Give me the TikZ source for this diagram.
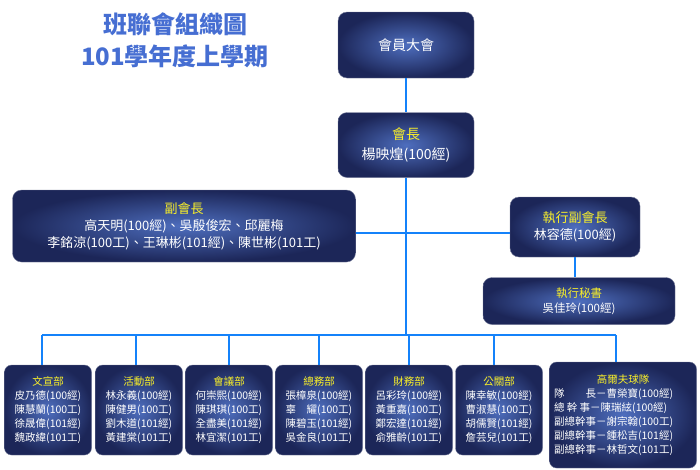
\documentclass[tikz,border=0pt]{standalone}
\usepackage{fontspec}
\setmainfont{Noto Sans CJK TC}
\usetikzlibrary{positioning}
\definecolor{navyout}{RGB}{28,38,88}
\definecolor{navyin}{RGB}{78,110,190}
\definecolor{linkblue}{RGB}{20,130,250}
\definecolor{titleblue}{RGB}{70,110,210}
\definecolor{headyellow}{RGB}{250,240,40}
\newcommand{\hd}[1]{\textcolor{headyellow}{#1}}
\begin{document}
\begin{tikzpicture}[x=1pt,y=-1pt,
  box/.style={rounded corners=9pt,draw=navyout!60,inner color=navyin,outer color=navyout,
    text=white,align=center,font=\fontsize{13}{17}\selectfont,inner sep=2pt},
  small box/.style={box,font=\fontsize{10.5}{14}\selectfont,rounded corners=7pt,inner sep=1pt},
  link/.style={draw=linkblue,line width=2.2pt}]
\useasboundingbox (0,0) rectangle (700,469);
% title
\node[font=\bfseries\fontsize{24}{32}\selectfont,text=titleblue,align=center] (title) at (175,40) {班聯會組織圖\\101學年度上學期};
% upper boxes
\node[box,minimum width=136pt,minimum height=66pt,font=\fontsize{14}{17}\selectfont] (assembly) at (406,45) {會員大會};
\node[box,minimum width=136pt,minimum height=65pt,font=\fontsize{14}{20}\selectfont] (pres) at (406,145) {\hd{會長}\\楊映煌(100經)};
\node[box,minimum width=343pt,minimum height=72pt] (vice) at (184,226) {\hd{副會長}\\高天明(100經)、吳殷俊宏、邱麗梅\\李銘涼(100工)、王琳彬(101經)、陳世彬(101工)};
\node[box,minimum width=130pt,minimum height=60pt] (exvice) at (575,227) {\hd{執行副會長}\\林容德(100經)};
\node[box,minimum width=192pt,minimum height=47pt,font=\fontsize{11.5}{15}\selectfont] (secr) at (579,301) {\hd{執行秘書}\\吳佳玲(100經)};
% departments
\node[small box,minimum width=87pt,minimum height=90pt] (d1) at (48,410) {\hd{文宣部}\\皮乃德(100經)\\陳慧蘭(100工)\\徐晟偉(101經)\\魏政緯(101工)};
\node[small box,minimum width=87pt,minimum height=90pt] (d2) at (139,410) {\hd{活動部}\\林永義(100經)\\陳健男(100工)\\劉木道(101經)\\黃建棠(101工)};
\node[small box,minimum width=87pt,minimum height=90pt] (d3) at (229,410) {\hd{會議部}\\何崇熙(100經)\\陳琪琪(100工)\\全盡美(101經)\\林宜潔(101工)};
\node[small box,minimum width=87pt,minimum height=90pt] (d4) at (319,410) {\hd{總務部}\\張樟泉(100經)\\辜\quad 耀(100工)\\陳碧玉(101經)\\吳金良(101工)};
\node[small box,minimum width=87pt,minimum height=90pt] (d5) at (409,410) {\hd{財務部}\\呂彩玲(100經)\\黃重嘉(100工)\\鄭宏達(101經)\\俞雅齡(101工)};
\node[small box,minimum width=87pt,minimum height=90pt] (d6) at (499,410) {\hd{公關部}\\陳幸敏(100經)\\曹淑慧(100工)\\胡儒賢(101經)\\詹芸兒(101工)};
\node[small box,minimum width=147pt,minimum height=106pt,align=left] (golf) at (623,415) {\makebox[138pt]{\hd{高爾夫球隊}}\\隊\quad\quad 長－曹榮寶(100經)\\總\ 幹\ 事－陳瑞絃(100經)\\副總幹事－謝宗翰(100工)\\副總幹事－鍾松吉(101經)\\副總幹事－林哲文(101工)};
% connectors
\coordinate (hub) at (406,233);
\coordinate (bus) at (406,335);
\draw[link] (assembly) -- (pres);
\draw[link] (pres) -- (bus);
\draw[link] (vice.east|-hub) -- (exvice.west|-hub);
\draw[link] (exvice.south) -- (exvice.south|-secr.north);
\draw[link] (42,335) -- (616,335);
\foreach \n/\x in {d1/42,d2/136,d3/229,d4/319,d5/409,d6/494,golf/616}{
  \coordinate (top) at (\x,335);
  \draw[link] (top) -- (top|-\n.north);}
\end{tikzpicture}
\end{document}
